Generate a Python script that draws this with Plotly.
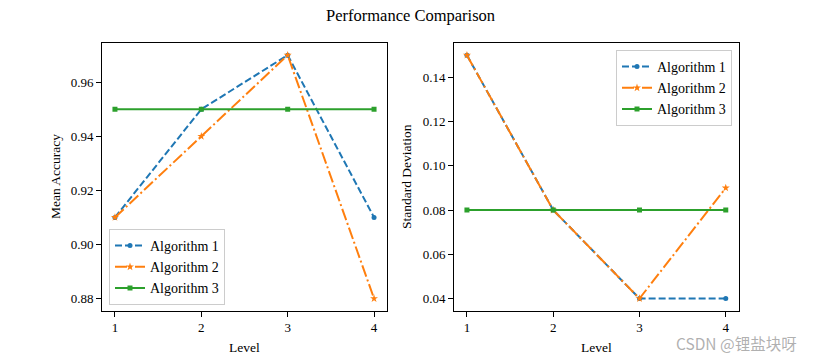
import plotly.graph_objects as go

levels = [1, 2, 3, 4]
series_names = ["Algorithm 1", "Algorithm 2", "Algorithm 3"]
mean_acc_alg1 = [0.91, 0.95, 0.97, 0.91]
mean_acc_alg2 = [0.91, 0.94, 0.97, 0.88]
mean_acc_alg3 = [0.95, 0.95, 0.95, 0.95]
std_alg1 = [0.15, 0.08, 0.04, 0.04]
std_alg2 = [0.15, 0.08, 0.04, 0.09]
std_alg3 = [0.08, 0.08, 0.08, 0.08]
acc_ticks = [0.88, 0.90, 0.92, 0.94, 0.96]
std_ticks = [0.04, 0.06, 0.08, 0.10, 0.12, 0.14]

# page body has an 8px default margin; the figure is sized to fit the window
OFF = 8
W, H = 819 - OFF, 360 - OFF
FONT = "Liberation Serif"
colors = ["#1f77b4", "#ff7f0e", "#2ca02c"]
dashes = ["7px,3px", "12px,3px,2px,3px", "solid"]
symbols = ["circle", "star", "square"]
msizes = [5, 6, 5]

def px_x(v):
    return (v - OFF) / W

def px_y(v):
    return 1 - (v - OFF) / H

fig = go.Figure()

left_data = [mean_acc_alg1, mean_acc_alg2, mean_acc_alg3]
right_data = [std_alg1, std_alg2, std_alg3]

for i, name in enumerate(series_names):
    fig.add_trace(go.Scatter(
        x=levels, y=left_data[i], name=name, mode="lines+markers",
        line=dict(color=colors[i], width=2, dash=dashes[i]),
        marker=dict(symbol=symbols[i], size=msizes[i], color=colors[i]),
        xaxis="x", yaxis="y", legend="legend"))
for i, name in enumerate(series_names):
    fig.add_trace(go.Scatter(
        x=levels, y=right_data[i], name=name, mode="lines+markers",
        line=dict(color=colors[i], width=2, dash=dashes[i]),
        marker=dict(symbol=symbols[i], size=msizes[i], color=colors[i]),
        xaxis="x2", yaxis="y2", legend="legend2"))

def pad_range(vals, frac=0.05):
    lo, hi = min(vals), max(vals)
    d = (hi - lo) * frac
    return [lo - d, hi + d]

all_acc = mean_acc_alg1 + mean_acc_alg2 + mean_acc_alg3
all_std = std_alg1 + std_alg2 + std_alg3

axis_common = dict(
    showgrid=False, zeroline=False, showline=True, linecolor="black", linewidth=1,
    mirror=True, ticks="outside", ticklen=5, tickcolor="black", tickwidth=1,
    tickfont=dict(family=FONT, size=13, color="black"),
)

legend_common = dict(
    bgcolor="rgba(255,255,255,0.8)", bordercolor="#cccccc", borderwidth=1,
    font=dict(family=FONT, size=14, color="black"), itemwidth=30, tracegroupgap=0,
)

yd = [px_y(310.7), px_y(43)]
fig.update_layout(
    width=W, height=H,
    margin=dict(l=0, r=0, t=0, b=0),
    paper_bgcolor="white", plot_bgcolor="white",
    showlegend=True,
    xaxis=dict(domain=[px_x(102), px_x(387)], range=pad_range(levels), tickvals=levels,
               anchor="y", **axis_common),
    yaxis=dict(domain=yd, range=pad_range(all_acc), tickvals=acc_ticks, tickformat=".2f",
               anchor="x", **axis_common),
    xaxis2=dict(domain=[px_x(454), px_x(738.7)], range=pad_range(levels), tickvals=levels,
                anchor="y2", **axis_common),
    yaxis2=dict(domain=yd, range=pad_range(all_std), tickvals=std_ticks, tickformat=".2f",
                anchor="x2", **axis_common),
    legend=dict(x=px_x(109), y=px_y(305), xanchor="left", yanchor="bottom", **legend_common),
    legend2=dict(x=px_x(732), y=px_y(50), xanchor="right", yanchor="top", **legend_common),
    annotations=[
        dict(text="Performance Comparison", x=px_x(410), y=px_y(15), xref="paper", yref="paper",
             showarrow=False, xanchor="center", yanchor="middle",
             font=dict(family=FONT, size=16.5, color="black")),
        dict(text="Mean Accuracy", x=px_x(55), y=px_y(177), xref="paper", yref="paper",
             showarrow=False, xanchor="center", yanchor="middle", textangle=-90,
             font=dict(family=FONT, size=13.5, color="black")),
        dict(text="Standard Deviation", x=px_x(406), y=px_y(177), xref="paper", yref="paper",
             showarrow=False, xanchor="center", yanchor="middle", textangle=-90,
             font=dict(family=FONT, size=13.5, color="black")),
        dict(text="Level", x=px_x(244.5), y=px_y(347), xref="paper", yref="paper",
             showarrow=False, xanchor="center", yanchor="middle",
             font=dict(family=FONT, size=13.5, color="black")),
        dict(text="Level", x=px_x(596), y=px_y(347), xref="paper", yref="paper",
             showarrow=False, xanchor="center", yanchor="middle",
             font=dict(family=FONT, size=13.5, color="black")),
        dict(text="CSDN @锂盐块呀", x=px_x(736), y=px_y(343), xref="paper", yref="paper",
             showarrow=False, xanchor="center", yanchor="middle",
             font=dict(family="Noto Sans CJK SC", size=15.5, color="rgba(150,150,150,0.75)")),
    ],
)

fig.write_html("out.html")
